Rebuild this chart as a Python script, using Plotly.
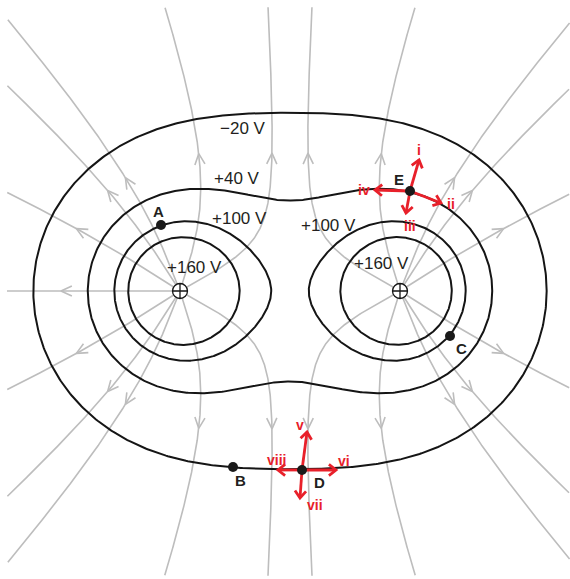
import numpy as np
import plotly.graph_objects as go

W, H = 570, 579

# ---- data (pixel frame of the drawing) ----
charge_x = [180.0, 400.0]
charge_y = [291.0, 291.0]
charge_q = [1.0, 1.0]
SCALE = 110.0  # potential unit: q / (110 px)

# equipotential levels (in potential units) and their printed values
level_values = [1.05, 1.545, 2.06, 2.53]
level_names = ["−20 V", "+40 V", "+100 V", "+160 V"]

# field-line start angles (deg, counter-clockwise, 0 = +x) for each charge
left_line_angles = [180, 147, 213, 122, 238, 111, 249, 72, 288, 29, 331]
right_line_angles = [33, 58, 69, 108, 151, 209, 252, 291, 302, 327]
arrow_level = 1.25  # potential at which the small grey arrowheads sit

# text labels of the equipotentials
label_text = ["−20 V", "+40 V", "+100 V", "+100 V", "+160 V", "+160 V"]
label_x = [243, 237, 239, 328, 194, 381]
label_y = [128, 178, 218, 225, 267, 263]

# named points
point_names = ["A", "B", "C", "D", "E"]
point_x = [161, 233, 450, 302, 410]
point_y = [225, 467, 336, 470, 191]
point_label_x = [158, 240, 461, 319, 399]
point_label_y = [211, 480, 348, 482, 179]

# red direction vectors
vec_names = ["i", "ii", "iii", "iv", "v", "vi", "vii", "viii"]
vec_origin = ["E", "E", "E", "E", "D", "D", "D", "D"]
vec_dx = [9, 31, -4, -35, 5, 34, -2, -24]
vec_dy = [-31, 12, 22, -1, -38, 0, 28, 0]
vec_label_x = [419, 451, 410, 364, 300, 344, 315, 276]
vec_label_y = [150, 204, 226, 190, 425, 461, 505, 460]

# ---- physics helpers ----
def potential(x, y):
    total = 0.0
    for cx, cy, q in zip(charge_x, charge_y, charge_q):
        total = total + q / np.maximum(np.hypot(x - cx, y - cy), 1e-6)
    return SCALE * total


def field_dir(p):
    ex = ey = 0.0
    for cx, cy, q in zip(charge_x, charge_y, charge_q):
        dx, dy = p[0] - cx, p[1] - cy
        r3 = (dx * dx + dy * dy) ** 1.5 + 1e-12
        ex += q * dx / r3
        ey += q * dy / r3
    n = np.hypot(ex, ey) + 1e-15
    return np.array([ex / n, ey / n])


def field_line(cx, cy, ang_deg, ds=1.0):
    a = np.radians(ang_deg)
    p = np.array([cx + 2.0 * np.cos(a), cy - 2.0 * np.sin(a)])
    pts = [(cx, cy), (p[0], p[1])]
    for _ in range(2500):
        k1 = field_dir(p)
        k2 = field_dir(p + 0.5 * ds * k1)
        k3 = field_dir(p + 0.5 * ds * k2)
        k4 = field_dir(p + ds * k3)
        p = p + ds * (k1 + 2 * k2 + 2 * k3 + k4) / 6.0
        pts.append((p[0], p[1]))
        if p[0] < 8 or p[0] > 569 or p[1] < 8 or p[1] > 575:
            break
    return np.array(pts)


def equipotential(level, cx, cy, outward):
    th = np.linspace(0, 2 * np.pi, 721)
    r = np.arange(1.0, 460.0, 0.5)
    X = cx + np.outer(np.cos(th), r)
    Y = cy + np.outer(np.sin(th), r)
    V = potential(X, Y)
    rows = np.arange(th.size)
    if outward:
        i1 = np.argmax(V < level, axis=1)
        i0 = i1 - 1
    else:
        mask = V >= level
        i0 = r.size - 1 - np.argmax(mask[:, ::-1], axis=1)
        i1 = i0 + 1
    v0, v1 = V[rows, i0], V[rows, i1]
    t = (level - v0) / (v1 - v0)
    rr = r[i0] + t * (r[i1] - r[i0])
    return cx + rr * np.cos(th), cy + rr * np.sin(th)


def chevron(tx, ty, ux, uy, L, half_deg):
    xs, ys = [], []
    h = np.radians(half_deg)
    for s in (1, -1):
        c, sn = np.cos(s * h), np.sin(s * h)
        bx = -(ux * c - uy * sn)
        by = -(ux * sn + uy * c)
        xs.append(tx + L * bx)
        ys.append(ty + L * by)
    return [xs[0], tx, xs[1], None], [ys[0], ty, ys[1], None]


fig = go.Figure()

# ---- field lines ----
flx, fly, arx, ary = [], [], [], []
for (cx, cy), angles in zip(zip(charge_x, charge_y), [left_line_angles, right_line_angles]):
    for a in angles:
        pts = field_line(cx, cy, a)
        flx += list(pts[:, 0]) + [None]
        fly += list(pts[:, 1]) + [None]
        V = potential(pts[:, 0], pts[:, 1])
        k = int(np.argmax(V < arrow_level))
        if k > 1 and k < len(pts) - 1:
            d = pts[k + 1] - pts[k - 1]
            d = d / np.hypot(*d)
            cxs, cys = chevron(pts[k, 0], pts[k, 1], d[0], d[1], 12, 25)
            arx += cxs
            ary += cys

fig.add_trace(go.Scatter(x=flx, y=fly, mode="lines",
                         line=dict(color="#bdbdbd", width=1.6),
                         hoverinfo="skip"))
fig.add_trace(go.Scatter(x=arx, y=ary, mode="lines",
                         line=dict(color="#bdbdbd", width=1.6),
                         hoverinfo="skip"))

# ---- equipotentials ----
ex, ey = [], []
for lv in level_values:
    if lv < 2.0:
        xs, ys = equipotential(lv, 290.0, 291.0, outward=False)
        ex += list(xs) + [None]
        ey += list(ys) + [None]
    else:
        for cx, cy in zip(charge_x, charge_y):
            xs, ys = equipotential(lv, cx, cy, outward=True)
            ex += list(xs) + [None]
            ey += list(ys) + [None]
fig.add_trace(go.Scatter(x=ex, y=ey, mode="lines",
                         line=dict(color="#151515", width=2),
                         hoverinfo="skip"))

# ---- charges ----
fig.add_trace(go.Scatter(x=charge_x, y=charge_y, mode="markers",
                         marker=dict(symbol="circle-cross", size=15, color="white",
                                     line=dict(color="#151515", width=1.3)),
                         hoverinfo="skip"))

# ---- red vectors ----
pmap = {n: (x, y) for n, x, y in zip(point_names, point_x, point_y)}
rx, ry = [], []
for o, dx, dy in zip(vec_origin, vec_dx, vec_dy):
    x0, y0 = pmap[o]
    tx, ty = x0 + dx, y0 + dy
    rx += [x0, tx, None]
    ry += [y0, ty, None]
    L = np.hypot(dx, dy)
    cxs, cys = chevron(tx, ty, dx / L, dy / L, 9, 38)
    rx += cxs
    ry += cys
fig.add_trace(go.Scatter(x=rx, y=ry, mode="lines",
                         line=dict(color="#e8202a", width=2.8),
                         hoverinfo="skip"))

# ---- points ----
fig.add_trace(go.Scatter(x=point_x, y=point_y, mode="markers",
                         marker=dict(size=10, color="#1a1a1a"),
                         hoverinfo="skip"))

annotations = []
for t, x, y in zip(label_text, label_x, label_y):
    annotations.append(dict(x=x, y=y, text=t, showarrow=False,
                            font=dict(family="Liberation Sans, Arial", size=17, color="#231f20")))
for t, x, y in zip(point_names, point_label_x, point_label_y):
    annotations.append(dict(x=x, y=y, text="<b>%s</b>" % t, showarrow=False,
                            font=dict(family="Liberation Sans, Arial", size=15, color="#231f20")))
for t, x, y in zip(vec_names, vec_label_x, vec_label_y):
    annotations.append(dict(x=x, y=y, text="<b>%s</b>" % t, showarrow=False,
                            font=dict(family="Liberation Sans, Arial", size=14, color="#e8202a")))

fig.update_layout(
    width=W, height=H,
    margin=dict(l=0, r=0, t=0, b=0),
    paper_bgcolor="white", plot_bgcolor="white",
    showlegend=False,
    xaxis=dict(range=[0, W], visible=False, fixedrange=True),
    yaxis=dict(range=[H, 0], visible=False, fixedrange=True),
    annotations=annotations,
)

fig.write_html("out.html", config={"displayModeBar": False},
               post_script="document.body.style.margin='0px';document.body.style.overflow='hidden';")
